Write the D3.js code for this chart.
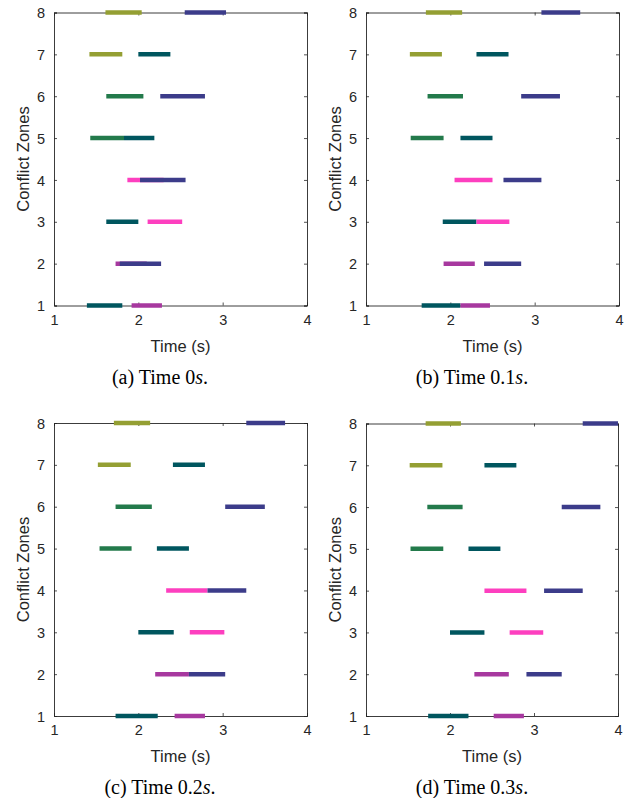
<!DOCTYPE html>
<html>
<head>
<meta charset="utf-8">
<script src="https://cdn.jsdelivr.net/npm/d3@7"></script>
<style>
  body { margin: 0; background: #fff; }
  svg { display: block; }
  .tick text { font-family: "Liberation Sans", Arial, sans-serif; font-size: 14.5px; fill: #262626; }
  .lbl { font-family: "Liberation Sans", Arial, sans-serif; font-size: 16.5px; fill: #262626; }
  .cap { font-family: "Liberation Serif", "Times New Roman", serif; font-size: 20px; fill: #000; }
</style>
</head>
<body>
<div id="chart"></div>
<script>
// ---------- data ----------
var zones = [1, 2, 3, 4, 5, 6, 7, 8];
var timeTicks = [1, 2, 3, 4];
var captions = [["(a) Time 0", "."], ["(b) Time 0.1", "."], ["(c) Time 0.2", "."], ["(d) Time 0.3", "."]];

// segment = [zone, start (s), end (s), vehicle]
var segA = [
  [8, 1.61, 2.04, "olive"], [8, 2.55, 3.04, "navy"],
  [7, 1.42, 1.81, "olive"], [7, 2.00, 2.38, "teal"],
  [6, 1.62, 2.06, "green"], [6, 2.26, 2.79, "navy"],
  [5, 1.43, 1.83, "green"], [5, 1.83, 2.19, "teal"],
  [4, 1.87, 2.30, "pink"],  [4, 2.02, 2.56, "navy"],
  [3, 1.62, 2.00, "teal"],  [3, 2.11, 2.52, "pink"],
  [2, 1.73, 2.10, "magenta"], [2, 1.78, 2.27, "navy"],
  [1, 1.39, 1.81, "teal"],  [1, 1.92, 2.28, "magenta"]
];
var segB = [
  [8, 1.71, 2.14, "olive"], [8, 3.08, 3.54, "navy"],
  [7, 1.52, 1.90, "olive"], [7, 2.31, 2.69, "teal"],
  [6, 1.73, 2.15, "green"], [6, 2.84, 3.30, "navy"],
  [5, 1.53, 1.92, "green"], [5, 2.12, 2.50, "teal"],
  [4, 2.05, 2.50, "pink"],  [4, 2.63, 3.08, "navy"],
  [3, 1.91, 2.31, "teal"],  [3, 2.31, 2.70, "pink"],
  [2, 1.92, 2.29, "magenta"], [2, 2.40, 2.84, "navy"],
  [1, 1.66, 2.12, "teal"],  [1, 2.12, 2.47, "magenta"]
];
var segC = [
  [8, 1.71, 2.14, "olive"], [8, 3.28, 3.74, "navy"],
  [7, 1.52, 1.91, "olive"], [7, 2.41, 2.79, "teal"],
  [6, 1.73, 2.16, "green"], [6, 3.03, 3.50, "navy"],
  [5, 1.54, 1.92, "green"], [5, 2.22, 2.60, "teal"],
  [4, 2.33, 2.82, "pink"],  [4, 2.82, 3.28, "navy"],
  [3, 2.00, 2.42, "teal"],  [3, 2.61, 3.02, "pink"],
  [2, 2.20, 2.60, "magenta"], [2, 2.60, 3.03, "navy"],
  [1, 1.73, 2.23, "teal"],  [1, 2.43, 2.79, "magenta"]
];
var segD = [
  [8, 1.71, 2.13, "olive"], [8, 3.58, 4.04, "navy"],
  [7, 1.52, 1.91, "olive"], [7, 2.41, 2.79, "teal"],
  [6, 1.73, 2.15, "green"], [6, 3.33, 3.79, "navy"],
  [5, 1.53, 1.92, "green"], [5, 2.22, 2.60, "teal"],
  [4, 2.41, 2.91, "pink"],  [4, 3.12, 3.58, "navy"],
  [3, 2.00, 2.41, "teal"],  [3, 2.71, 3.11, "pink"],
  [2, 2.29, 2.70, "magenta"], [2, 2.91, 3.33, "navy"],
  [1, 1.74, 2.22, "teal"],  [1, 2.52, 2.88, "magenta"]
];

var vehicleColor = {
  olive: "#949f33", navy: "#3c3c8a", teal: "#00565f",
  green: "#237a4b", pink: "#fd3fbf", magenta: "#a7389f"
};

// ---------- layout ----------
var W = 631, H = 798;
var panels = [
  {seg: segA, x0: 54,  x1: 307, y0: 12.5,  y1: 305.5, cap: captions[0]},
  {seg: segB, x0: 366, x1: 619, y0: 12.5,  y1: 305.5, cap: captions[1]},
  {seg: segC, x0: 54,  x1: 307, y0: 423,   y1: 716,   cap: captions[2]},
  {seg: segD, x0: 366, x1: 618, y0: 423.5, y1: 716,   cap: captions[3]}
];

var svg = d3.select("#chart").append("svg")
  .attr("width", W).attr("height", H);

var axisColor = "#262626";

panels.forEach(function(p, i){
  var x = d3.scaleLinear().domain([1, 4]).range([p.x0, p.x1]);
  var y = d3.scaleLinear().domain([1, 8]).range([p.y1, p.y0]);
  var g = svg.append("g");

  g.append("clipPath").attr("id", "clip" + i)
    .append("rect")
    .attr("x", p.x0).attr("y", p.y0 - 10)
    .attr("width", p.x1 - p.x0).attr("height", p.y1 - p.y0 + 20);

  // axes
  var bottom = g.append("g").attr("transform", "translate(0," + p.y1 + ")")
    .call(d3.axisBottom(x).tickValues(timeTicks).tickSize(-3).tickPadding(9).tickFormat(d3.format("d")));
  var left = g.append("g").attr("transform", "translate(" + p.x0 + ",0)")
    .call(d3.axisLeft(y).tickValues(zones).tickSize(-3).tickPadding(9).tickFormat(d3.format("d")));
  var top = g.append("g").attr("transform", "translate(0," + p.y0 + ")")
    .call(d3.axisTop(x).tickValues(timeTicks).tickSize(-3).tickFormat(""));
  var right = g.append("g").attr("transform", "translate(" + p.x1 + ",0)")
    .call(d3.axisRight(y).tickValues(zones).tickSize(-3).tickFormat(""));
  [bottom, left, top, right].forEach(function(a){
    a.selectAll("path.domain").attr("stroke", axisColor).attr("stroke-width", 0.9);
    a.selectAll(".tick line").attr("stroke", axisColor).attr("stroke-width", 0.8);
  });
  bottom.selectAll(".tick text").attr("dy", "0.72em");
  left.selectAll(".tick text").attr("dy", "0.35em");

  // segments
  g.append("g").attr("clip-path", "url(#clip" + i + ")")
    .selectAll("line").data(p.seg).enter().append("line")
    .attr("x1", function(d){ return x(d[1]); })
    .attr("x2", function(d){ return x(d[2]); })
    .attr("y1", function(d){ return y(d[0]); })
    .attr("y2", function(d){ return y(d[0]); })
    .attr("stroke", function(d){ return vehicleColor[d[3]]; })
    .attr("stroke-width", 4.5);

  // labels
  var cx = (p.x0 + p.x1) / 2;
  g.append("text").attr("class", "lbl")
    .attr("x", cx).attr("y", p.y1 + 46)
    .attr("text-anchor", "middle").text("Time (s)");
  g.append("text").attr("class", "lbl")
    .attr("transform", "translate(" + (p.x0 - 25) + "," + ((p.y0 + p.y1) / 2) + ") rotate(-90)")
    .attr("text-anchor", "middle").text("Conflict Zones");
  var cap = g.append("text").attr("class", "cap")
    .attr("x", p.x0 + 106).attr("y", p.y1 + 78)
    .attr("text-anchor", "middle");
  cap.append("tspan").text(p.cap[0]);
  cap.append("tspan").attr("font-style", "italic").text("s");
  cap.append("tspan").text(p.cap[1]);
});
</script>
</body>
</html>
